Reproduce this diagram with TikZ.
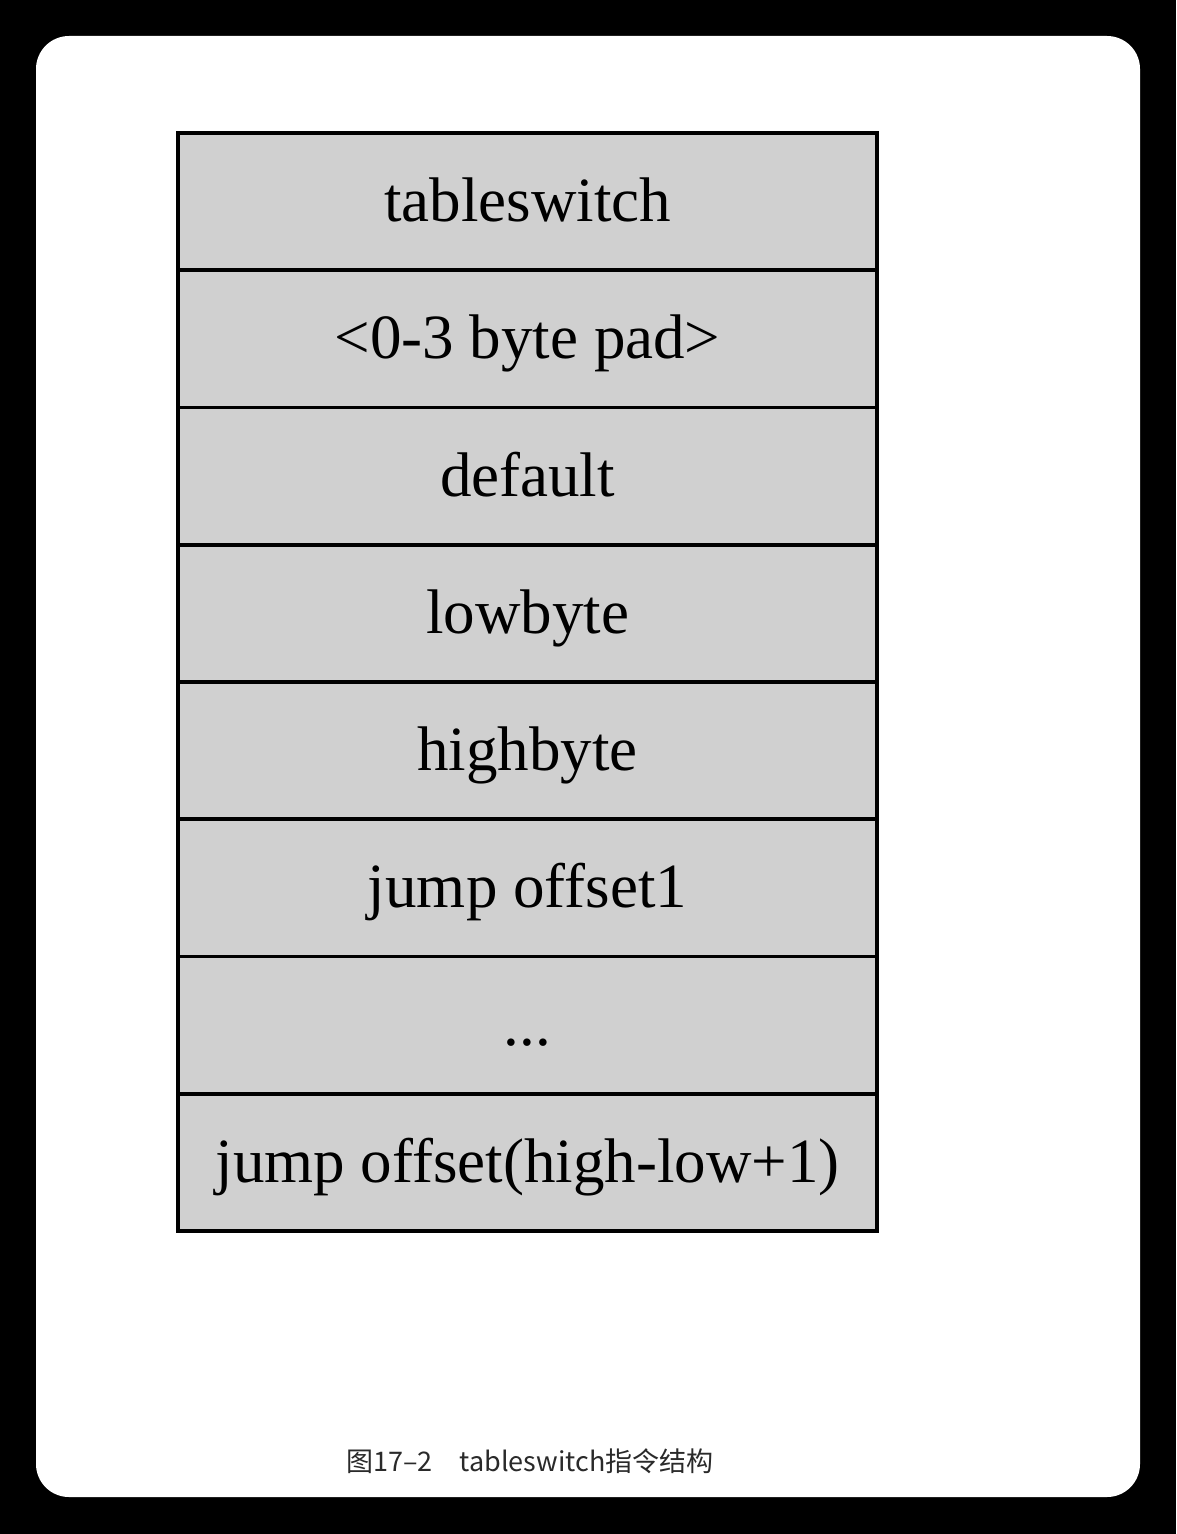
\documentclass[tikz,border=0pt]{standalone}
\usepackage{fontspec}
\setmainfont{Liberation Serif}
\newfontfamily\cjk{Noto Sans CJK SC}
\usepackage{xcolor}
\usepackage{tikz}
\usetikzlibrary{positioning}
\definecolor{cellgray}{HTML}{D0D0D0}
\definecolor{captiongray}{HTML}{2A2A2A}

\begin{document}
\begin{tikzpicture}[x=0.5pt,y=-0.5pt,
            cell/.style={rectangle, draw, line width=1.8pt, fill=cellgray, minimum width=349.5pt, minimum height=68.6pt,
                         font=\fontsize{31.5pt}{36pt}\selectfont, text height=26pt, text depth=6pt, inner sep=0pt}]

            % Frame
            \fill[black] (0,0) rectangle (1176,1534);
            \fill[white, rounded corners=16.5pt] (36,36) rectangle (1140,1497);
            \useasboundingbox (0,0) rectangle (1176,1534);

            % Cells
            \node[cell] (op) at (527.5,201.6) {tableswitch};
            \node[cell] (pad) at (527.5,338.9) {<0-3 byte pad>};
            \node[cell] (default) at (527.5,476.1) {default};
            \node[cell] (low) at (527.5,613.4) {lowbyte};
            \node[cell] (high) at (527.5,750.6) {highbyte};
            \node[cell] (off1) at (527.5,887.9) {jump offset1};
            \node[cell] (dots) at (527.5,1025.1) {...};
            \node[cell] (offn) at (527.5,1162.4) {jump offset(high-low+1)};

            % Caption
            \node[text=captiongray, font=\cjk\fontsize{13.5pt}{16pt}\selectfont] (caption) at (530,1461) {图17–2　tableswitch指令结构};
        \end{tikzpicture}
\end{document}
